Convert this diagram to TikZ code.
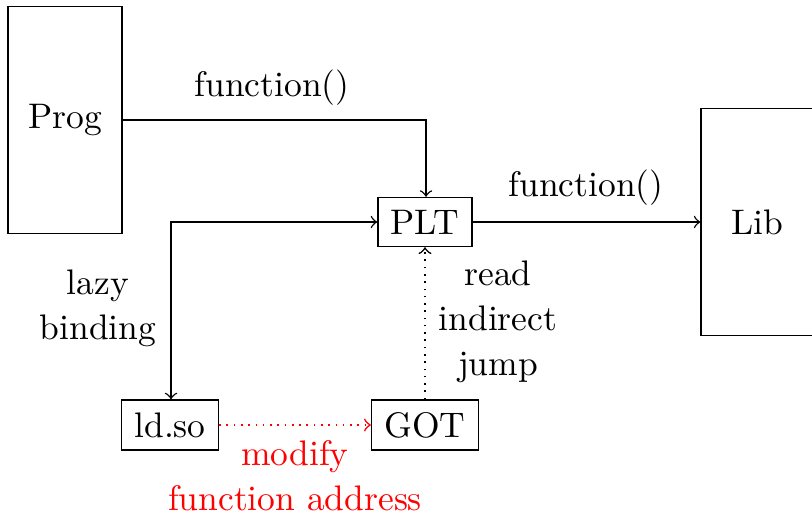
\documentclass[tikz,border=0pt]{standalone}
\begin{document}
\begin{tikzpicture}[x=0.2817pt,y=-0.2817pt,
  box/.style={draw,inner sep=0pt,anchor=center},
  lbl/.style={align=center,inner sep=0pt},
  dots/.style={dash pattern=on 0.45pt off 1.6pt,line width=0.45pt}]
\useasboundingbox (0,0) rectangle (812,513);
\node[box,minimum width=32.1pt,minimum height=63.9pt] (prog) at (65,120) {Prog};
\node[box,minimum width=26.5pt,minimum height=13.8pt] (plt) at (425,222) {PLT};
\node[box,minimum width=31.5pt,minimum height=63.9pt] (lib) at (757,222) {Lib};
\node[box,minimum width=27.3pt,minimum height=14.1pt] (ld) at (170,425) {ld.so};
\node[box,minimum width=30.1pt,minimum height=14.1pt] (got) at (425,425) {GOT};
\coordinate (c1) at (426,120);
\coordinate (c2) at (171,222);
\draw[->] (prog.east |- prog) -- (c1) -- (c1 |- plt.north);
\node[lbl] (f1) at (272,88) {function()};
\draw[->] (plt.east) -- (lib.west);
\node[lbl] (f2) at (586,188) {function()};
\draw[<->] (plt.west) -- (c2) -- (c2 |- ld.north);
\node[lbl] (lazy) at (98,308) {lazy\\[0.7pt]binding};
\draw[->,dots] (got.north) -- (plt.south);
\node[lbl] (read) at (498,322) {read\\[0.7pt]indirect\\[0.7pt]jump};
\draw[->,dots,red] (ld.east) -- (got.west);
\node[lbl,text=red] (mod) at (295,476) {modify\\[0.7pt]function address};
\end{tikzpicture}
\end{document}
